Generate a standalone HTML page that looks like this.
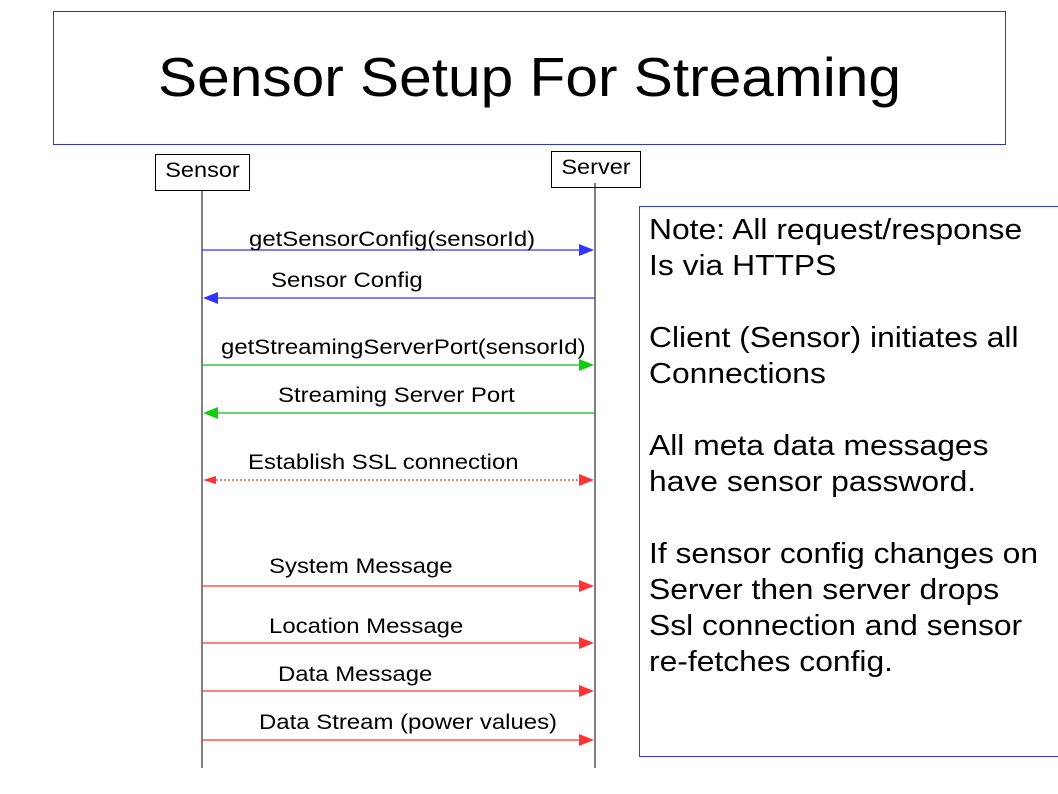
<!DOCTYPE html>
<html><head><style>
body{margin:0;width:1058px;height:794px;background:#fff;overflow:hidden;position:relative;font-family:"Liberation Sans",sans-serif}
.t{position:absolute;white-space:nowrap;color:#000}
.l{transform:scaleX(1.14);transform-origin:0 0}
</style></head><body>
<div style="position:absolute;left:53px;top:11px;width:951px;height:132px;border:1px solid #3333cc"></div>
<div class="t" style="left:53px;width:953px;text-align:center;top:45px;font-size:55px;transform:scaleX(1.066)">Sensor Setup For Streaming</div>
<div style="position:absolute;left:155px;top:154px;width:93px;height:35px;border:1px solid #000"></div>
<div class="t" style="left:155px;width:95px;text-align:center;top:159px;font-size:21px;transform:scaleX(1.12)">Sensor</div>
<div style="position:absolute;left:551px;top:151px;width:88px;height:35px;border:1px solid #000"></div>
<div class="t" style="left:551px;width:90px;text-align:center;top:156px;font-size:21px;transform:scaleX(1.12)">Server</div>
<div style="position:absolute;left:639px;top:206px;width:430px;height:549px;border:1px solid #3333ff"></div>
<div class="t" style="left:649px;top:212px;font-size:29px;line-height:36px;transform:scaleX(1.097);transform-origin:0 0">Note: All request/response<br>Is via HTTPS<br><br>Client (Sensor) initiates all<br>Connections<br><br>All meta data messages<br>have sensor password.<br><br>If sensor config changes on<br>Server then server drops<br>Ssl connection and sensor<br>re-fetches config.</div>
<svg width="1058" height="794" style="position:absolute;left:0;top:0">
<line x1="202" y1="190" x2="202" y2="768" stroke="#000"/>
<line x1="595" y1="183" x2="595" y2="768" stroke="#000"/>
<g stroke-width="1.2">
<line x1="202" y1="250" x2="580" y2="250" stroke="#3333ff"/><polygon points="579,244 594,250 579,256" fill="#3333ff"/>
<line x1="216" y1="298" x2="595" y2="298" stroke="#3333ff"/><polygon points="218,292 203,298 218,304" fill="#3333ff"/>
<line x1="202" y1="365" x2="580" y2="365" stroke="#11bb11"/><polygon points="579,359 594,365 579,371" fill="#11cc11"/>
<line x1="216" y1="413" x2="595" y2="413" stroke="#11bb11"/><polygon points="218,407 203,413 218,419" fill="#11cc11"/>
<line x1="216" y1="480" x2="580" y2="480" stroke="#ff3333" stroke-dasharray="2,2"/><polygon points="579,474 594,480 579,486" fill="#ff3333"/><polygon points="216,476 203,480 216,484" fill="#ff3333"/>
<line x1="202" y1="586" x2="580" y2="586" stroke="#ff3333"/><polygon points="579,580 594,586 579,592" fill="#ff3333"/>
<line x1="202" y1="643" x2="580" y2="643" stroke="#ff3333"/><polygon points="579,637 594,643 579,649" fill="#ff3333"/>
<line x1="202" y1="691" x2="580" y2="691" stroke="#ff3333"/><polygon points="579,685 594,691 579,697" fill="#ff3333"/>
<line x1="202" y1="740" x2="580" y2="740" stroke="#ff3333"/><polygon points="579,734 594,740 579,746" fill="#ff3333"/>
</g>
</svg>
<div class="t l" style="left:249px;top:228px;font-size:21px">getSensorConfig(sensorId)</div>
<div class="t l" style="left:271px;top:269px;font-size:21px">Sensor Config</div>
<div class="t l" style="left:221px;top:336px;font-size:21px">getStreamingServerPort(sensorId)</div>
<div class="t l" style="left:278px;top:384px;font-size:21px">Streaming Server Port</div>
<div class="t l" style="left:248px;top:451px;font-size:21px">Establish SSL connection</div>
<div class="t l" style="left:269px;top:555px;font-size:21px">System Message</div>
<div class="t l" style="left:269px;top:615px;font-size:21px">Location Message</div>
<div class="t l" style="left:278px;top:663px;font-size:21px">Data Message</div>
<div class="t l" style="left:259px;top:711px;font-size:21px">Data Stream (power values)</div>
</body></html>
